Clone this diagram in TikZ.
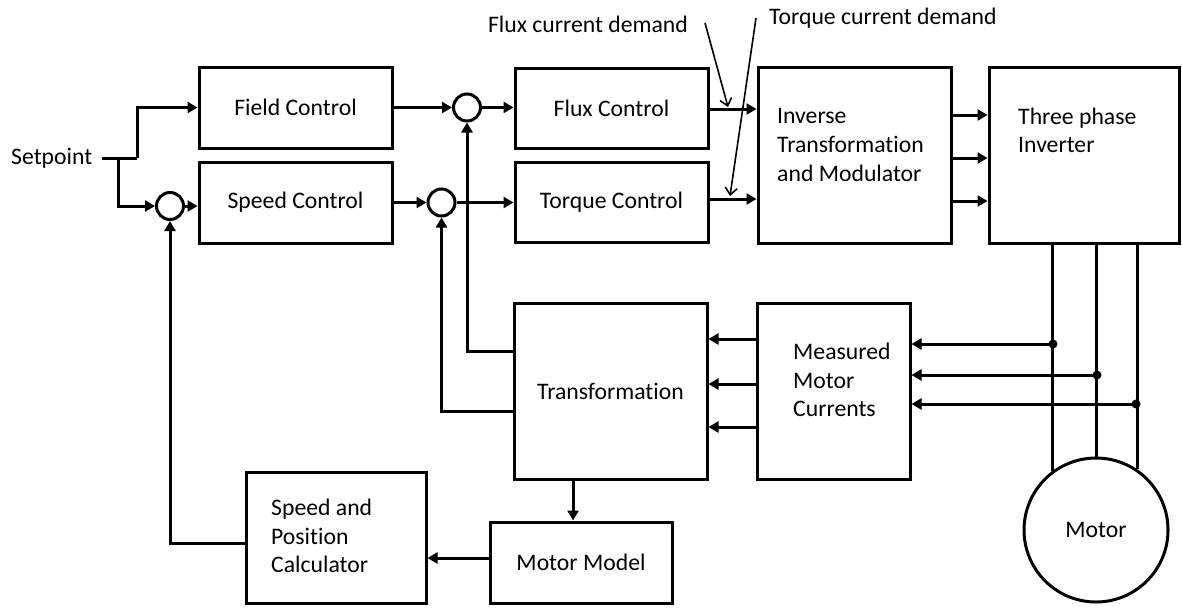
\documentclass[tikz,border=0pt]{standalone}
\usepackage{fontspec}
\setmainfont{Carlito}[Ligatures=NoCommon]
\usetikzlibrary{arrows.meta,calc}
\begin{document}
\begin{tikzpicture}[x=1pt,y=-1pt,
  font=\fontsize{23.7}{28.7}\selectfont,
  blk/.style={draw,line width=3pt,rectangle,inner sep=0pt,fill=white},
  sumc/.style={draw,line width=3pt,circle,minimum size=27pt,inner sep=0pt},
  txt/.style={inner sep=0pt,align=left},
  arr/.style={line width=3pt,-{Triangle[length=10pt,width=11pt]}},
  ln/.style={line width=3pt},
  thin/.style={line width=1.6pt,-{Straight Barb[length=7pt,width=12pt]}},
  dot/.style={circle,fill,inner sep=0pt,minimum size=9pt}]
\useasboundingbox (0,0) rectangle (1182,608);

% blocks
\node[blk,minimum width=193pt,minimum height=81pt] (field) at (295.5,107.5) {Field Control};
\node[blk,minimum width=193pt,minimum height=81pt] (speed) at (295.5,202.5) {Speed Control};
\node[blk,minimum width=193pt,minimum height=80pt] (flux) at (611.5,108) {Flux Control};
\node[blk,minimum width=193pt,minimum height=80pt] (torque) at (611.5,202.5) {Torque Control};
\node[blk,minimum width=193pt,minimum height=176pt] (inverse) at (854.5,155) {};
\node[blk,minimum width=190pt,minimum height=176pt] (inverter) at (1084,155) {};
\node[blk,minimum width=193pt,minimum height=176pt] (trans) at (610.5,391) {Transformation};
\node[blk,minimum width=153pt,minimum height=176pt] (meas) at (833.5,391) {};
\node[blk,minimum width=180pt,minimum height=131pt] (calc) at (336,537.5) {};
\node[blk,minimum width=182pt,minimum height=81pt] (model) at (581,562.5) {Motor Model};
\node[draw,line width=3pt,circle,minimum size=144pt,inner sep=0pt] (motor) at (1096,530) {Motor};

% texts in blocks
\node[txt,anchor=west] (tinv) at (777,145) {Inverse\\Transformation\\and Modulator};
\node[txt,anchor=west] (tinvt) at (1018,130.5) {Three phase\\Inverter};
\node[txt,anchor=west] (tmeas) at (793,380) {Measured\\Motor\\Currents};
\node[txt,anchor=west] (tcalc) at (271,536) {Speed and\\Position\\Calculator};

% summing junctions
\node[sumc] (sum1) at (170,206) {};
\node[sumc] (sum2) at (467,107.5) {};
\node[sumc] (sum3) at (441.5,202.5) {};

% labels
\node[txt,anchor=west] (setpoint) at (11,158) {Setpoint};
\node[txt] (fcd) at (588,24) {Flux current demand};
\node[txt,anchor=west] (tcd) at (769,18) {Torque current demand};

\coordinate (sp) at (102,158);
\coordinate (spu) at (137,158);
\coordinate (spd) at (118,158);
\coordinate (fd0) at (705,23);
\coordinate (fd1) at (728,107);
\coordinate (td0) at (756,18);
\coordinate (td1) at (730,196);

% setpoint branches
\draw[ln] (sp) -- (spu);
\draw[arr] (spu) |- (field.west);
\draw[arr] (spd) |- (sum1.west);
\draw[arr] (sum1.east) -- (speed.west |- sum1.east);
\draw[arr] (field.east) -- (sum2.west);
\draw[arr] (sum2.east) -- (flux.west |- sum2.east);
\draw[arr] (speed.east) -- (sum3.west);
\draw[arr] (sum3.east) -- (torque.west |- sum3.east);

% to inverse transformation
\draw[arr] (flux.east |- 0,109) -- (inverse.west |- 0,109);
\draw[arr] (torque.east |- 0,199) -- (inverse.west |- 0,199);
\draw[thin] (fd0) -- (fd1);
\draw[thin] (td0) -- (td1);

% inverse to inverter
\foreach \yy in {115,158,201}
  \draw[arr] (inverse.east |- 0,\yy) -- (inverter.west |- 0,\yy);

% phases to motor
\draw[ln] (inverter.south -| motor.126.7) -- (motor.126.7);
\draw[ln] (inverter.south -| motor.north) -- (motor.north);
\draw[ln] (inverter.south -| motor.56.3) -- (motor.56.3);

\node[dot] (d1) at (1053,344) {};
\node[dot] (d2) at (1097,375) {};
\node[dot] (d3) at (1136,404) {};
\draw[arr] (d1.center) -- (meas.east |- d1.center);
\draw[arr] (d2.center) -- (meas.east |- d2.center);
\draw[arr] (d3.center) -- (meas.east |- d3.center);

% measured to transformation
\foreach \yy in {339,384,427}
  \draw[arr] (meas.west |- 0,\yy) -- (trans.east |- 0,\yy);

% feedback from transformation
\draw[arr] (trans.west |- 0,351) -| (sum2.south);
\draw[arr] (trans.west |- 0,411) -| (sum3.south);

% transformation to motor model to calculator
\draw[arr] (trans.south -| 573,0) -- (model.north -| 573,0);
\draw[arr] (model.west |- 0,558) -- (calc.east |- 0,558);
\draw[arr] (calc.west |- 0,543) -| (sum1.south);
\end{tikzpicture}
\end{document}
